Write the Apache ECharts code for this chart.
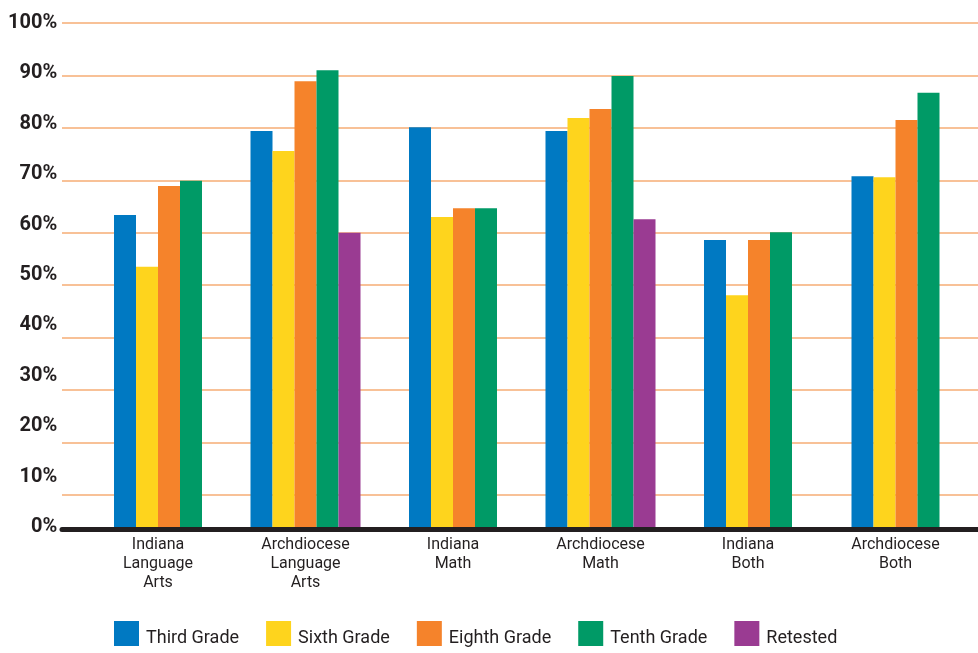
<!DOCTYPE html>
<html>
<head>
<meta charset="utf-8">
<script src="https://cdn.jsdelivr.net/npm/echarts@6/dist/echarts.min.js"></script>
<style>
html,body{margin:0;padding:0;background:#fff;}
#chart{width:978px;height:653px;}
</style>
</head>
<body>
<div id="chart"></div>
<script>
const categories = ['Indiana Language Arts', 'Archdiocese Language Arts', 'Indiana Math', 'Archdiocese Math', 'Indiana Both', 'Archdiocese Both'];
const seriesNames = ['Third Grade', 'Sixth Grade', 'Eighth Grade', 'Tenth Grade', 'Retested'];
const thirdGrade  = [63.4, 79.4, 80.1, 79.4, 58.6, 70.8];
const sixthGrade  = [53.5, 75.6, 63.0, 81.9, 48.1, 70.6];
const eighthGrade = [68.9, 88.9, 64.7, 83.6, 58.6, 81.5];
const tenthGrade  = [69.9, 91.0, 64.7, 89.9, 60.1, 86.7];
const retested    = [null, 60.0, null, 62.6, null, null];
const colors = ['#0079c2', '#fed41d', '#f5832b', '#009a66', '#9a3b92'];

const FONT = "Roboto, 'Liberation Sans', sans-serif";
const allData = [thirdGrade, sixthGrade, eighthGrade, tenthGrade, retested];
const hasRetest = retested.map(v => v != null);

const series = [];
// groups without a retest value: four bars centred on their category
allData.slice(0, 4).forEach((arr, i) => {
  series.push({
    name: seriesNames[i], type: 'bar', xAxisIndex: 1, yAxisIndex: 1,
    barWidth: 22, barGap: '0%',
    itemStyle: { color: colors[i] },
    data: arr.map((v, k) => hasRetest[k] ? '-' : v)
  });
});
// groups with a retest value: five bars centred on their category
allData.forEach((arr, i) => {
  series.push({
    name: seriesNames[i], type: 'bar', xAxisIndex: 2, yAxisIndex: 1,
    barWidth: 22, barGap: '0%',
    itemStyle: { color: colors[i] },
    data: arr.map((v, k) => hasRetest[k] && v != null ? v : '-')
  });
});

const chart = echarts.init(document.getElementById('chart'));
chart.setOption({
  animation: false,
  backgroundColor: '#fff',
  grid: [
    { left: 62, right: 0, top: 23, bottom: 124, outerBoundsMode: 'none', containLabel: false },
    { left: 84.25, right: 8.75, top: 23, bottom: 126, outerBoundsMode: 'none', containLabel: false }
  ],
  legend: {
    data: seriesNames, left: 114, top: 621, padding: 0,
    itemWidth: 25, itemHeight: 25, itemGap: 27, icon: 'rect',
    formatter: '{t|{name}}',
    textStyle: { fontSize: 18, color: '#231f20', fontFamily: FONT,
      rich: { t: { fontSize: 18, color: '#231f20', fontFamily: FONT, padding: [10, 0, 0, 2] } } }
  },
  xAxis: [
    { gridIndex: 0, type: 'category', data: categories, z: 5,
      axisLine: { onZero: false, lineStyle: { color: '#231f20', width: 5 } },
      axisTick: { show: false }, axisLabel: { show: false }, splitLine: { show: false } },
    { gridIndex: 1, type: 'category', data: categories,
      axisLine: { show: false }, axisTick: { show: false }, splitLine: { show: false },
      axisLabel: { interval: 0, margin: 8, fontSize: 16, lineHeight: 19, color: '#231f20', fontFamily: FONT,
        formatter: v => v.split(' ').join('\n') } },
    { gridIndex: 1, type: 'category', data: categories, show: false }
  ],
  yAxis: [
    { gridIndex: 0, type: 'value', min: 3.5, max: 100, splitNumber: 10,
      axisLine: { show: false }, axisTick: { show: false }, axisLabel: { show: false },
      splitLine: { show: true, showMinLine: false, lineStyle: { color: '#f8c197', width: 2 } } },
    { gridIndex: 1, type: 'value', min: 3.9, max: 100, show: false, splitLine: { show: false } },
    { gridIndex: 1, type: 'value', min: 0, max: 100, interval: 10, position: 'left',
      axisLine: { show: false }, axisTick: { show: false }, splitLine: { show: false },
      axisLabel: { formatter: '{value}%', margin: 27, fontSize: 20, fontWeight: 'bold', color: '#231f20', fontFamily: FONT } }
  ],
  series: series
});
</script>
</body>
</html>
